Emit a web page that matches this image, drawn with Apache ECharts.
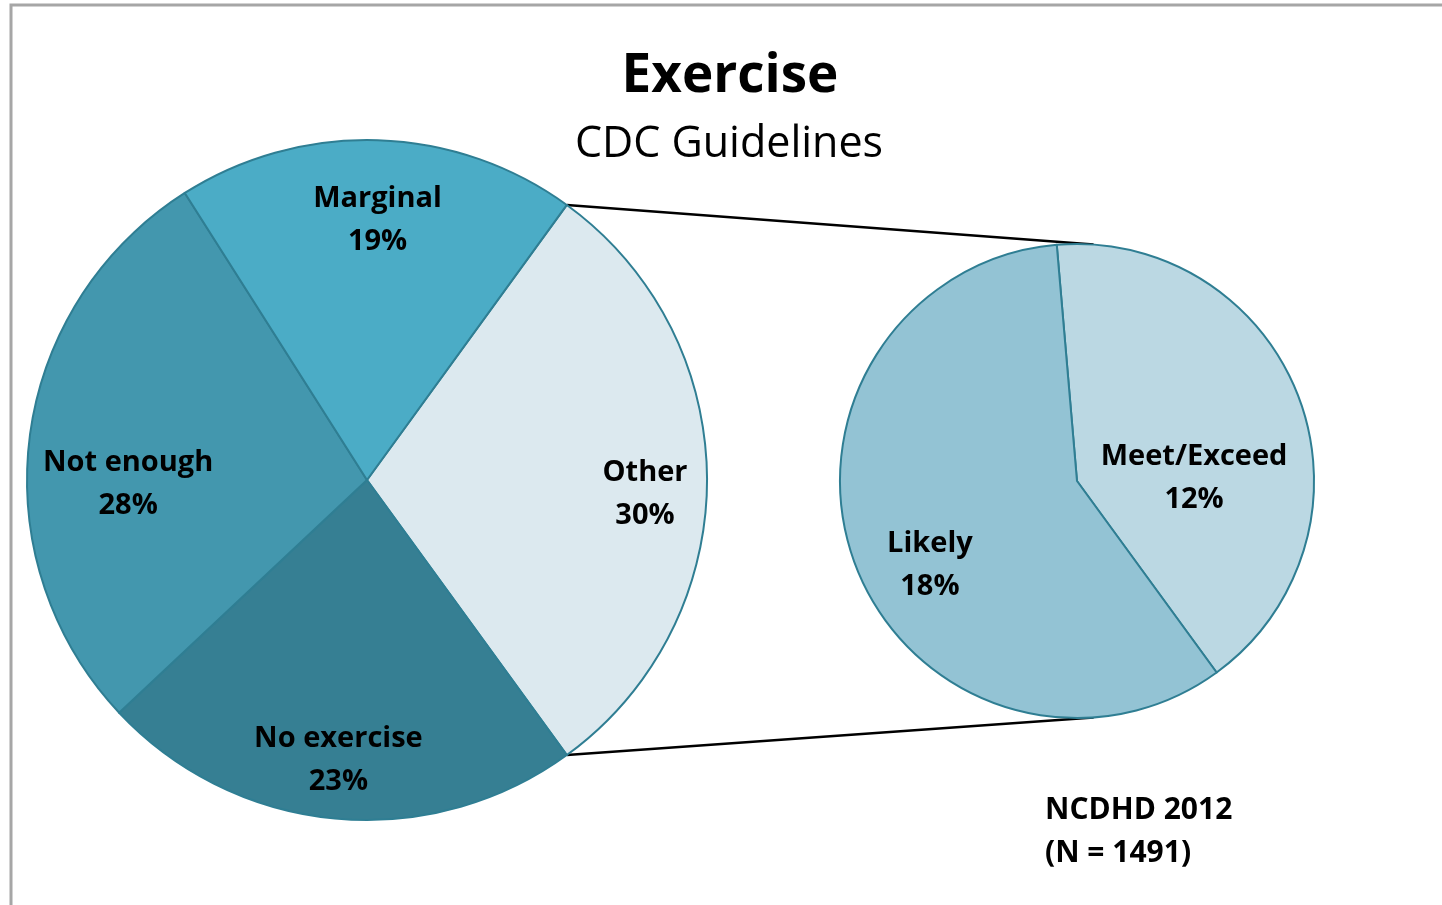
<!DOCTYPE html>
<html>
<head>
<meta charset="utf-8">
<title>Exercise</title>
<script src="https://cdn.jsdelivr.net/npm/echarts@6/dist/echarts.min.js"></script>
<style>
  html, body { margin: 0; padding: 0; background: #fff; }
  #chart { width: 1442px; height: 905px; }
</style>
</head>
<body>
<div id="chart"></div>
<script>
// main pie (clockwise from the top edge of "Other")
const categories = ['Other', 'No exercise', 'Not enough', 'Marginal'];
const shares = [30, 23, 28, 19];
// breakdown of "Other"
const subCategories = ['Meet/Exceed', 'Likely'];
const subShares = [12.4, 17.6];
const footNote = ['NCDHD 2012', '(N = 1491)'];

const FONT = '"Open Sans", "DejaVu Sans", sans-serif';

// geometry of the two pies
const main = { cx: 367, cy: 480, r: 340, start: 54, labelR: 0.8 };
const sub = { cx: 1077, cy: 481, r: 237, start: 94.9, labelR: 0.55 };

// label nudges, same order as the data
const mainShift = [[6, 14], [-3, 9], [31, 38], [2, 12]];
const subShift = [[-5, 43], [-25, 39]];

const mainColors = ['#DCE9EF', '#367F93', '#4397AE', '#4BACC6'];
const subColors = ['#BBD8E3', '#93C3D4'];

function midAngles(vals, start) {
    const total = vals.reduce((s, v) => s + v, 0);
    let a = start;
    return vals.map(v => {
        const sweep = v / total * 360;
        const mid = a - sweep / 2;
        a -= sweep;
        return mid;
    });
}

function layoutFor(pie, vals, shift) {
    const mids = midAngles(vals, pie.start);
    return function (params) {
        const i = params.dataIndex;
        const rad = mids[i] * Math.PI / 180;
        return {
            x: pie.cx + pie.r * pie.labelR * Math.cos(rad) + shift[i][0],
            y: pie.cy - pie.r * pie.labelR * Math.sin(rad) + shift[i][1],
            align: 'center',
            verticalAlign: 'middle'
        };
    };
}

function pointOn(pie, deg) {
    const rad = deg * Math.PI / 180;
    return [pie.cx + pie.r * Math.cos(rad), pie.cy - pie.r * Math.sin(rad)];
}

// connectors run from the edges of "Other" to the top/bottom of the small pie
const otherSweep = shares[0] / shares.reduce((s, v) => s + v, 0) * 360;
const a1 = pointOn(main, main.start);
const a2 = pointOn(main, main.start - otherSweep);
const b1 = pointOn(sub, 86);
const b2 = pointOn(sub, -86);

const labelStyle = {
    show: true,
    position: 'inside',
    color: '#000',
    fontFamily: FONT,
    fontWeight: 'bold',
    fontSize: 29,
    lineHeight: 43,
    formatter: p => p.name + '\n' + Math.round(p.value) + '%'
};

const chart = echarts.init(document.getElementById('chart'));
chart.setOption({
    animation: false,
    backgroundColor: '#fff',
    title: [
        {
            text: 'Exercise',
            left: 730,
            top: 50,
            padding: 0,
            textAlign: 'center',
            textStyle: { fontFamily: FONT, fontSize: 53, fontWeight: 'bold', color: '#000', lineHeight: 53 }
        },
        {
            text: 'CDC Guidelines',
            left: 729,
            top: 123,
            padding: 0,
            textAlign: 'center',
            textStyle: { fontFamily: FONT, fontSize: 43, fontWeight: 'normal', color: '#000', lineHeight: 43 }
        }
    ],
    graphic: [
        {
            type: 'rect',
            z: -10,
            silent: true,
            shape: { x: 11, y: 5, width: 1600, height: 1200 },
            style: { fill: 'none', stroke: '#A6A6A6', lineWidth: 3 }
        },
        {
            type: 'line',
            z: 1,
            silent: true,
            shape: { x1: a1[0], y1: a1[1], x2: b1[0], y2: b1[1] },
            style: { stroke: '#000', lineWidth: 2.5 }
        },
        {
            type: 'line',
            z: 1,
            silent: true,
            shape: { x1: a2[0], y1: a2[1], x2: b2[0], y2: b2[1] },
            style: { stroke: '#000', lineWidth: 2.5 }
        },
        {
            type: 'text',
            left: 1045,
            top: 789,
            silent: true,
            style: {
                text: footNote.join('\n'),
                fill: '#000',
                font: 'bold 30px ' + FONT,
                lineHeight: 43
            }
        }
    ],
    series: [
        {
            type: 'pie',
            center: [main.cx, main.cy],
            radius: [0, main.r],
            startAngle: main.start,
            clockwise: true,
            silent: true,
            avoidLabelOverlap: false,
            itemStyle: { borderColor: '#2F7E93', borderWidth: 2 },
            label: labelStyle,
            labelLine: { show: false },
            labelLayout: layoutFor(main, shares, mainShift),
            data: categories.map((name, i) => ({
                name: name,
                value: shares[i],
                itemStyle: { color: mainColors[i] }
            }))
        },
        {
            type: 'pie',
            center: [sub.cx, sub.cy],
            radius: [0, sub.r],
            startAngle: sub.start,
            clockwise: true,
            silent: true,
            avoidLabelOverlap: false,
            itemStyle: { borderColor: '#2F7E93', borderWidth: 2 },
            label: labelStyle,
            labelLine: { show: false },
            labelLayout: layoutFor(sub, subShares, subShift),
            data: subCategories.map((name, i) => ({
                name: name,
                value: subShares[i],
                itemStyle: { color: subColors[i] }
            }))
        }
    ]
});
</script>
</body>
</html>
